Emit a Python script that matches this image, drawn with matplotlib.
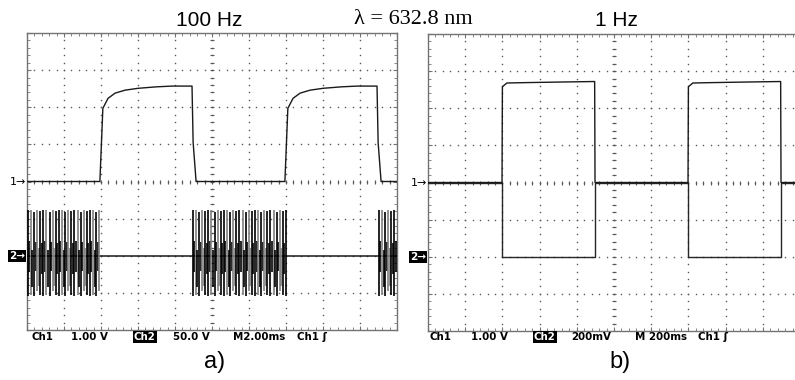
import numpy as np
import matplotlib.pyplot as plt

# --- values (time in divisions, 10 div per screen) ---
period = 5.0  # divisions per cycle in both screens

# a) 100 Hz, Ch1 photodetector (V), one cycle
ch1_a_t = [0.0, 1.97, 2.05, 2.19, 2.38, 2.65, 3.0, 3.5, 3.92, 4.46, 4.49, 4.57, 5.0]
ch1_a_v = [0.0, 0.0, 1.97, 2.24, 2.38, 2.46, 2.51, 2.55, 2.57, 2.57, 1.05, 0.0, 0.0]
# a) Ch2 drive bursts (start, stop) in divisions, amplitude pattern in divisions
ch2_a_bursts = [(0.0, 1.97), (4.46, 7.03), (9.49, 10.0)]
burst_hi = [1.24, 0.40, 1.22, 0.15, 1.18, 0.38, 1.24, 0.20, 1.20, 0.35]
burst_lo = [-1.08, -0.45, -1.05, -0.85, -1.08, -0.40, -0.95, -0.82, -1.06, -0.50]
burst_gray = [0, 0, 1, 0, 0, 0, 1, 1, 0, 0]

# b) 1 Hz, Ch1 (V) and Ch2 (mV), one cycle
ch1_b_t = [0.0, 1.99, 2.0, 2.12, 2.6, 3.2, 3.8, 4.48, 4.49, 5.0]
ch1_b_v = [0.0, 0.0, 2.58, 2.68, 2.69, 2.70, 2.71, 2.72, 0.0, 0.0]
ch2_b_t = [0.0, 2.0, 2.0, 4.48, 4.48, 5.0]
ch2_b_mv = [400, 400, 0, 0, 400, 400]

titles = ["100 Hz", "1 Hz"]
wavelength = "λ = 632.8 nm"
panel_tags = ["a)", "b)"]
readout_a = ["Ch1", "1.00 V", "Ch2", "50.0 V", "M2.00ms", "Ch1 ʃ"]
readout_b = ["Ch1", "1.00 V", "Ch2", "200mV", "M 200ms", "Ch1 ʃ"]

W, H = 795, 380
fig = plt.figure(figsize=(W / 100, H / 100), dpi=100)
fig.patch.set_facecolor("white")


def box(x0, y0, x1, y1):
    return [x0 / W, 1 - y1 / H, (x1 - x0) / W, (y1 - y0) / H]


def scope_screen(ax):
    ax.set_xlim(0, 10)
    ax.set_ylim(-4, 4)
    for s in ax.spines.values():
        s.set_color("0.45")
        s.set_linewidth(1.0)
    ax.set_xticks(np.arange(0, 11, 1))
    ax.set_yticks(np.arange(-4, 5, 1))
    ax.set_xticks(np.arange(0, 10.01, 0.2), minor=True)
    ax.set_yticks(np.arange(-4, 4.01, 0.2), minor=True)
    ax.tick_params(which="both", direction="in", top=True, right=True,
                   labelbottom=False, labelleft=False, color="0.45")
    ax.tick_params(which="major", length=3, width=0.8)
    ax.tick_params(which="minor", length=2, width=0.6)
    dots = np.arange(0, 10.01, 0.2)
    vdots = np.arange(-4, 4.01, 0.2)
    for xi in range(1, 10):
        ax.plot(np.full_like(vdots, xi), vdots, ls="none", marker="s", ms=1.0,
                color="0.35", mew=0)
    for yi in range(-3, 4):
        ax.plot(dots, np.full_like(dots, yi), ls="none", marker="s", ms=1.0,
                color="0.35", mew=0)
    # centre graticule with small ticks
    ax.plot(np.full_like(vdots, 5), vdots, ls="none", marker="_", ms=2.5,
            color="0.35", mew=0.8)
    ax.plot(dots, np.zeros_like(dots), ls="none", marker="|", ms=2.5,
            color="0.35", mew=0.8)


def chan_marks(ax):
    tr = ax.get_yaxis_transform()
    ax.text(-0.002, 0, "1→", transform=tr, ha="right", va="center",
            fontsize=8, clip_on=False)
    ax.text(-0.006, -2, "2→", transform=tr, ha="right", va="center",
            fontsize=7.5, fontweight="bold", color="white", clip_on=False,
            bbox=dict(boxstyle="square,pad=0.12", fc="black", ec="none"))


# ---- panel a ----
axA = fig.add_axes(box(27, 33, 397, 330))
scope_screen(axA)
t = np.concatenate([np.array(ch1_a_t), np.array(ch1_a_t) + period])
v = np.concatenate([ch1_a_v, ch1_a_v])
axA.plot(t, v, color="0.1", lw=1.0, zorder=5)

edges = [0.0] + [x for b in ch2_a_bursts for x in b] + [10.0]
axA.plot(edges, np.full(len(edges), -2.0), color="0.1", lw=1.1, zorder=4)
step = 0.042
for start, stop in ch2_a_bursts:
    xs = np.arange(start + step / 2, stop, step)
    n = len(xs)
    idx = np.arange(n) % len(burst_hi)
    hi = np.array(burst_hi)[idx] - 2
    lo = np.array(burst_lo)[idx] - 2
    cols = ["0.5" if burst_gray[i] else "0.0" for i in idx]
    axA.vlines(xs, lo, hi, colors=cols, lw=1.2, zorder=4)
chan_marks(axA)

# ---- panel b ----
axB = fig.add_axes(box(428, 34, 800, 331))
scope_screen(axB)
t = np.concatenate([np.array(ch1_b_t), np.array(ch1_b_t) + period])
v = np.concatenate([ch1_b_v, ch1_b_v])
axB.plot(t, v, color="0.1", lw=1.0, zorder=5)
t2 = np.concatenate([np.array(ch2_b_t), np.array(ch2_b_t) + period])
v2 = np.concatenate([ch2_b_mv, ch2_b_mv]) / 200.0 - 2
axB.plot(t2, v2, color="0.15", lw=1.0, zorder=4)
chan_marks(axB)

# ---- texts ----
def px(x, y):
    return x / W, 1 - y / H


fig.text(*px(209, 20), titles[0], ha="center", va="center", fontsize=15,
         family="Liberation Sans")
fig.text(*px(616, 20), titles[1], ha="center", va="center", fontsize=15,
         family="Liberation Sans")
fig.text(*px(413, 19), wavelength, ha="center", va="center", fontsize=16,
         family="Liberation Serif")
fig.text(*px(215, 362), panel_tags[0], ha="center", va="center", fontsize=17,
         family="Liberation Sans")
fig.text(*px(620, 362), panel_tags[1], ha="center", va="center", fontsize=17,
         family="Liberation Sans")

read_x_a = [32, 71, 134, 173, 233, 297]
read_x_b = [430, 471, 534, 571, 635, 698]
for labels, xs in ((readout_a, read_x_a), (readout_b, read_x_b)):
    for lab, x in zip(labels, xs):
        kw = dict(ha="left", va="center", fontsize=7.4, fontweight="bold",
                  family="DejaVu Sans")
        if lab == "Ch2":
            kw.update(color="white",
                      bbox=dict(boxstyle="square,pad=0.1", fc="black", ec="none"))
        fig.text(*px(x, 337), lab, **kw)

fig.savefig("out.png", dpi=100)
